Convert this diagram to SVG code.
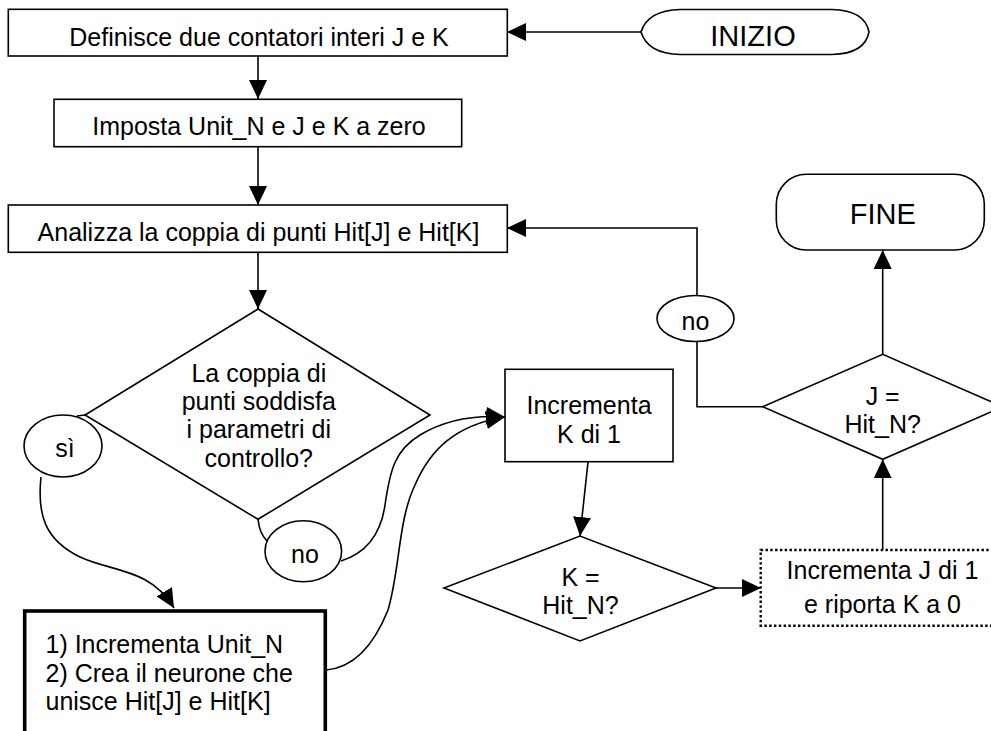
<svg xmlns="http://www.w3.org/2000/svg" width="991" height="731" viewBox="0 0 991 731">
  <style>
    .shape { fill: #ffffff; stroke: #000000; stroke-width: 1.6; }
    .thick { fill: #ffffff; stroke: #000000; stroke-width: 3.6; }
    .dotted { fill: #ffffff; stroke: #000000; stroke-width: 2.4; stroke-dasharray: 2.4 2.4; }
    .edge { fill: none; stroke: #000000; stroke-width: 1.6; }
    .arrow { marker-end: url(#head); }
    text { font-family: "Liberation Sans", Arial, sans-serif; font-size: 25px; fill: #000000; text-anchor: middle; }
    .big { font-size: 29px; }
    .left { text-anchor: start; }
  </style>
  <defs>
    <marker id="head" markerUnits="userSpaceOnUse" markerWidth="20" markerHeight="18" refX="19" refY="9" orient="auto">
      <path d="M0,0 L19,9 L0,18 z" fill="#000000"/>
    </marker>
  </defs>

  <rect width="991" height="731" fill="#ffffff"/>

  <!-- connectors -->
  <g id="connectors">
    <line class="edge arrow" x1="641" y1="32" x2="507" y2="32"/>
    <line class="edge arrow" x1="258" y1="56" x2="258" y2="99"/>
    <line class="edge arrow" x1="258" y1="147" x2="258" y2="205"/>
    <line class="edge arrow" x1="258" y1="252" x2="258" y2="309"/>
    <!-- "si" branch -->
    <line class="edge" x1="85" y1="415" x2="77" y2="416"/>
    <path class="edge arrow" d="M41,477 C37,515 45,540 80,557 C112,572 150,568 174,608"/>
    <!-- "no" branch of the first test -->
    <path class="edge" d="M258,519 C259,530 262,536 267,541"/>
    <path class="edge arrow" d="M341,561 C360,555 380,540 385,505 C390,470 395,450 420,435 C445,420 475,415 505,417"/>
    <path class="edge arrow" d="M326,670 C350,668 372,650 388,610 C400,570 398,520 415,485 C430,450 455,425 505,417"/>
    <!-- K loop -->
    <line class="edge arrow" x1="588" y1="462" x2="580" y2="536"/>
    <line class="edge arrow" x1="716" y1="588" x2="761" y2="588"/>
    <line class="edge arrow" x1="882.7" y1="550" x2="882.7" y2="459.3"/>
    <line class="edge arrow" x1="882.7" y1="354.3" x2="882.7" y2="250"/>
    <!-- J loop back to the analysis step -->
    <polyline class="edge" points="762.7,406.7 697,406.7 697,341.5"/>
    <polyline class="edge arrow" points="697,295.5 697,228 507,228"/>
  </g>

  <g id="inizio">
    <path class="shape" d="M641,32 C646,16 660,10 680,9.5 L832,9.5 C852,10 866,16 869,32 C866,48 852,54 832,54.5 L680,54.5 C660,54 646,48 641,32 z"/>
    <text class="big" x="753" y="45.5">INIZIO</text>
  </g>

  <g id="definisce">
    <rect class="shape" x="8.3" y="9.3" width="499" height="46.7"/>
    <text x="259" y="45.5">Definisce due contatori interi J e K</text>
  </g>

  <g id="imposta">
    <rect class="shape" x="54" y="99.3" width="407.7" height="47.4"/>
    <text x="259" y="135">Imposta Unit_N e J e K a zero</text>
  </g>

  <g id="analizza">
    <rect class="shape" x="8.3" y="205" width="499" height="47.3"/>
    <text x="258.5" y="241">Analizza la coppia di punti Hit[J] e Hit[K]</text>
  </g>

  <g id="test-coppia">
    <polygon class="shape" points="258,309 430,415 258,519.3 85,415"/>
    <text x="258.8" y="381.7">La coppia di</text>
    <text x="258.8" y="410">punti soddisfa</text>
    <text x="258.8" y="438.3">i parametri di</text>
    <text x="258.8" y="466.7">controllo?</text>
  </g>

  <g id="label-si">
    <ellipse class="shape" cx="63" cy="446" rx="39" ry="31"/>
    <text x="65" y="456.5">sì</text>
  </g>

  <g id="label-no-coppia">
    <ellipse class="shape" cx="303.3" cy="551.2" rx="38.3" ry="30.5"/>
    <text x="305" y="563.3">no</text>
  </g>

  <g id="crea-neurone">
    <rect class="thick" x="24.7" y="611" width="300.6" height="150"/>
    <text class="left" x="45.5" y="653.3">1)  Incrementa Unit_N</text>
    <text class="left" x="45.5" y="681.7">2) Crea il neurone che</text>
    <text class="left" x="45.5" y="710">unisce Hit[J] e Hit[K]</text>
  </g>

  <g id="incrementa-k">
    <rect class="shape" x="505" y="369.3" width="168" height="92.4"/>
    <text x="589" y="414.3">Incrementa</text>
    <text x="589" y="442.7">K di 1</text>
  </g>

  <g id="test-k">
    <polygon class="shape" points="444,588 580,536 716,588 580,641"/>
    <text x="580.5" y="585.7">K =</text>
    <text x="580.5" y="614.3">Hit_N?</text>
  </g>

  <g id="incrementa-j">
    <rect class="dotted" x="760.7" y="550" width="243.6" height="75.7"/>
    <text x="882.5" y="579.3">Incrementa J di 1</text>
    <text x="882.5" y="613.3">e riporta K a 0</text>
  </g>

  <g id="test-j">
    <polygon class="shape" points="762.7,406.7 882.7,354.3 1002.7,406.7 882.7,459.3"/>
    <text x="882.7" y="405">J =</text>
    <text x="882.7" y="433.3">Hit_N?</text>
  </g>

  <g id="label-no-j">
    <ellipse class="shape" cx="695.5" cy="318.5" rx="38.5" ry="23"/>
    <text x="695.5" y="330">no</text>
  </g>

  <g id="fine">
    <rect class="shape" x="776.3" y="174.3" width="208" height="75.7" rx="30" ry="30"/>
    <text class="big" x="882.8" y="224.3">FINE</text>
  </g>
</svg>
